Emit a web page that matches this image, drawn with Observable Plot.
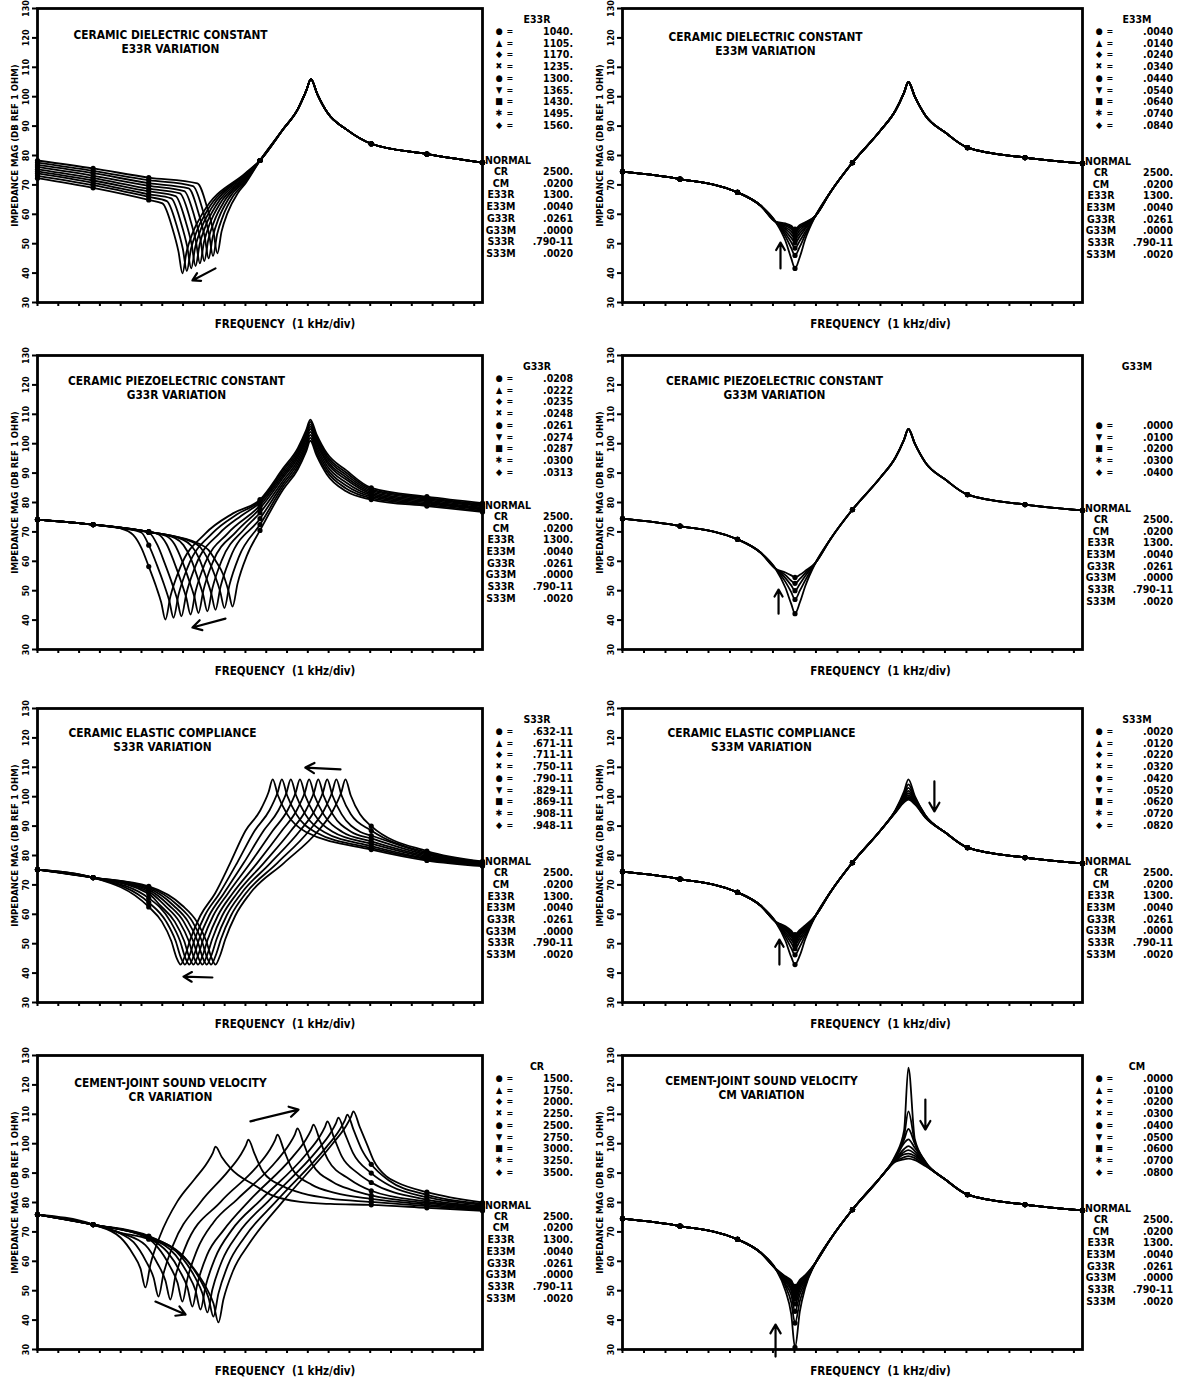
<!DOCTYPE html>
<html><head><meta charset="utf-8">
<script src="https://cdn.jsdelivr.net/npm/d3@7"></script>
<script src="https://cdn.jsdelivr.net/npm/@observablehq/plot@0.6"></script>
<style>
body{margin:0;background:#fff;}
#page{position:relative;width:1182px;height:1384px;font-family:"DejaVu Sans Condensed","DejaVu Sans",sans-serif;font-weight:bold;color:#000;}
.panel{position:absolute;}
.lg{position:absolute;font-size:10.5px;line-height:1;white-space:nowrap;}
</style></head><body><div id="page"></div>
<script>
// ---------- shared axis values ----------
const markerXs = [0, 2.675, 5.35, 8.025, 10.7, 13.375, 16.05, 18.725, 21.4];
const freqTicks = [0,1,2,3,4,5,6,7,8,9,10,11,12,13,14,15,16,17,18,19,20,21];
const dbTicks = [30,40,50,60,70,80,90,100,110,120,130];
const symbols = ["●","▲","◆","✖","●","▼","■","✱","◆"];
const normalNames = ["CR","CM","E33R","E33M","G33R","G33M","S33R","S33M"];
const normalValues = ["2500.",".0200","1300.",".0040",".0261",".0000",".790-11",".0020"];
const xLabel = "FREQUENCY  (1 kHz/div)";
const yLabel = "IMPEDANCE MAG (DB REF 1 OHM)";

// ---------- legend values ----------
const e33rValues = ["1040.","1105.","1170.","1235.","1300.","1365.","1430.","1495.","1560."];
const e33mValues = [".0040",".0140",".0240",".0340",".0440",".0540",".0640",".0740",".0840"];
const g33rValues = [".0208",".0222",".0235",".0248",".0261",".0274",".0287",".0300",".0313"];
const g33mValues = [".0000",".0100",".0200",".0300",".0400"];
const s33rValues = [".632-11",".671-11",".711-11",".750-11",".790-11",".829-11",".869-11",".908-11",".948-11"];
const s33mValues = [".0020",".0120",".0220",".0320",".0420",".0520",".0620",".0720",".0820"];
const crValues = ["1500.","1750.","2000.","2250.","2500.","2750.","3000.","3250.","3500."];
const cmValues = [".0000",".0100",".0200",".0300",".0400",".0500",".0600",".0700",".0800"];

// ---------- normal curve ----------
const normalX  = [0, 2.675, 5.35, 6.42, 7.12, 7.58, 7.85, 8.025, 8.25, 8.5, 8.98, 9.67, 10.7, 12.0, 12.7, 13.1, 13.3, 13.6, 14.09, 15.02, 16.05, 18.725, 21.4];
const normalDb = [74.5, 72, 67.5, 63, 57.5, 51, 45, 41.6, 45.5, 51.5, 59.5, 67.5, 77.6, 88.5, 95.3, 101.4, 105, 100, 93.6, 87.8, 82.7, 79.3, 77.3];

// dip region values (x = 7.58, 7.85, 8.025, 8.25, 8.5)
const e33mDips = [[51,45,41.6,45.5,51.5],[52.5,48.5,46,49,53],[53.5,50.5,48.5,51,54],[54.3,52,50.3,52.5,55],[55,53.2,51.6,53.6,55.6],[55.6,54.2,52.7,54.5,56.2],[56.1,55,53.6,55.3,56.6],[56.5,55.6,54.4,55.9,57],[56.9,56.1,55,56.4,57.3]];
const g33mDips = [[51,45.5,42.2,46,51.5],[53,49.5,47,50,53.5],[54.3,51.8,50,52.3,55],[55.3,53.4,52.5,54,56],[56.2,55.2,54.5,55.4,56.7]];
const s33mDips = [[51,45.5,42.9,46,51.5],[52.3,48.5,46.2,49,52.8],[53.2,50.2,48.3,50.8,53.6],[53.9,51.4,49.7,51.9,54.3],[54.5,52.3,50.8,52.8,54.8],[54.9,53,51.6,53.4,55.2],[55.3,53.6,52.2,53.9,55.6],[55.6,54,52.7,54.3,55.9],[55.9,54.4,53.1,54.7,56.2]];
const cmDips = [[50,42,30.7,43,51],[51.5,46,39,46.5,52],[52.3,48.5,43,48.8,52.8],[53,50,45.5,50.3,53.4],[53.5,51,47.3,51.3,53.9],[53.9,51.8,48.7,52,54.3],[54.3,52.5,49.8,52.7,54.7],[54.6,53,50.7,53.2,55],[54.9,53.5,51.5,53.7,55.3]];
// peak region values (x = 12.7, 13.1, 13.3, 13.6, 14.09)
const s33mPeaks = [[95.5,101.8,105.9,100.2,93.7],[95.3,101,104.2,99.8,93.6],[95.2,100.4,103,99.4,93.5],[95.1,99.9,102,99,93.4],[95,99.5,101.2,98.6,93.3],[94.9,99.1,100.5,98.3,93.2],[94.8,98.7,99.9,98,93.1],[94.7,98.4,99.4,97.7,93],[94.6,98.1,99,97.4,92.9]];
const cmPeaks = [[96,104.5,125.9,101.5,94],[95.7,102.5,111,100.5,93.8],[95.3,101.4,105,100,93.6],[95,100.2,101.5,98.6,93.4],[94.7,98.2,99.2,97.5,93.2],[94.5,97.2,97.8,96.6,93],[94.3,96.4,96.6,95.8,92.8],[94.1,95.4,95.8,95.1,92.6],[93.9,94.7,94.9,94.4,92.4]];

// ---------- E33R variation (left, row 1) ----------
const e33rHeads = [
 [[0,78.3],[2.675,75.6],[5.35,72.5],[7.69,70.5],[8.17,62.0],[8.46,54.1],[8.65,46.7],[8.85,54.1],[9.13,60.3],[9.62,67.1],[10.0,70.5]],
 [[0,77.6],[2.675,74.8],[5.35,71.6],[7.48,69.6],[7.96,61.1],[8.25,53.3],[8.44,45.8],[8.64,53.3],[8.92,59.4],[9.41,66.2],[10.0,71.1]],
 [[0,76.8],[2.675,74.0],[5.35,70.6],[7.27,68.8],[7.75,60.3],[8.04,52.4],[8.23,45.0],[8.43,52.4],[8.71,58.6],[9.2,65.4],[10.0,71.7]],
 [[0,76.1],[2.675,73.1],[5.35,69.7],[7.06,67.9],[7.54,59.4],[7.83,51.6],[8.02,44.1],[8.22,51.6],[8.5,57.7],[8.99,64.5],[10.0,72.3]],
 [[0,75.3],[2.675,72.3],[5.35,68.7],[6.85,67.1],[7.33,58.6],[7.62,50.7],[7.81,43.3],[8.01,50.7],[8.29,56.9],[8.78,63.7],[10.0,72.6]],
 [[0,74.6],[2.675,71.5],[5.35,67.8],[6.64,66.2],[7.12,57.7],[7.41,49.9],[7.6,42.4],[7.8,49.9],[8.08,56.0],[8.57,62.8],[10.0,73.0]],
 [[0,73.9],[2.675,70.7],[5.35,66.8],[6.43,65.4],[6.91,56.9],[7.2,49.0],[7.39,41.6],[7.59,49.0],[7.87,55.2],[8.36,62.0],[10.0,73.4]],
 [[0,73.1],[2.675,69.9],[5.35,65.9],[6.22,64.5],[6.7,56.0],[6.99,48.2],[7.18,40.7],[7.38,48.2],[7.66,54.3],[8.15,61.1],[10.0,73.7]],
 [[0,72.3],[2.675,69.0],[5.35,64.9],[6.01,63.7],[6.49,55.2],[6.78,47.3],[6.97,39.9],[7.17,47.3],[7.45,53.5],[7.94,60.3],[10.0,74.0]]
];
const e33rTail = [[10.7,78.3],[11.82,89],[12.52,95.8],[12.92,102],[13.15,106],[13.45,101],[13.94,94.6],[14.87,88.8],[16.05,84],[18.725,80.5],[21.4,77.6]];

// ---------- G33R variation (left, row 2) ----------
const g33rCurves = [
 [[0,74.2],[2.675,72.5],[5.35,70],[7.83,65.8],[8.23,63.8],[8.58,60],[8.93,55.5],[9.18,50],[9.38,44.6],[9.62,52.4],[10.08,62.1],[10.7,70.5],[11.82,84.5],[12.52,91.3],[12.92,97.4],[13.12,101],[13.42,96],[13.91,89.6],[14.84,83.8],[16.05,81],[18.725,78.8],[21.4,76.8]],
 [[0,74.2],[2.675,72.5],[5.35,70],[7.44,66.6],[7.84,64.7],[8.19,60.8],[8.54,55],[8.79,49.6],[8.99,44.1],[9.23,51.9],[9.69,61.6],[10.7,72.5],[11.82,85.5],[12.52,92.3],[12.92,98.4],[13.12,102],[13.42,97],[13.91,90.6],[14.84,84.8],[16.05,81.5],[18.725,79.2],[21.4,77.2]],
 [[0,74.2],[2.675,72.5],[5.35,70],[7.01,67.3],[7.41,65.2],[7.76,61.2],[8.11,54.5],[8.36,49],[8.56,43.5],[8.8,51.3],[9.26,61],[10.7,74.5],[11.82,86.5],[12.52,93.3],[12.92,99.4],[13.12,103],[13.42,98],[13.91,91.6],[14.84,85.8],[16.05,82],[18.725,79.6],[21.4,77.6]],
 [[0,74.2],[2.675,72.5],[5.35,70],[6.62,67.9],[7.02,65.5],[7.37,61],[7.72,54],[7.97,48.5],[8.17,43],[8.41,50.8],[8.87,60.5],[9.95,71],[10.7,76.5],[11.82,87.5],[12.52,94.3],[12.92,100.4],[13.12,104],[13.42,99],[13.91,92.6],[14.84,86.8],[16.05,82.5],[18.725,80],[21.4,77.9]],
 [[0,74.2],[2.675,72.5],[5.35,70],[6.19,68.6],[6.59,65.8],[6.94,60.4],[7.29,53.5],[7.54,48],[7.74,42.4],[7.98,50.2],[8.44,59.9],[9.55,70],[10.7,78],[11.82,88.5],[12.52,95.3],[12.92,101.4],[13.12,105],[13.42,100],[13.91,93.6],[14.84,87.8],[16.05,83],[18.725,80.4],[21.4,78.3]],
 [[0,74.2],[2.675,72.5],[5.35,70],[5.81,69.2],[6.21,65.8],[6.56,59.9],[6.91,53],[7.16,47.5],[7.36,41.9],[7.6,49.7],[8.06,59.4],[9.15,69.5],[10.7,79],[11.82,89.3],[12.52,96.1],[12.92,102.2],[13.12,105.8],[13.42,100.8],[13.91,94.4],[14.84,88.6],[16.05,83.5],[18.725,80.8],[21.4,78.7]],
 [[0,74.2],[2.675,72.5],[4.0,71.3],[5.35,69.8],[5.77,65.5],[6.12,59.3],[6.47,52.5],[6.72,47],[6.92,41.3],[7.16,49.1],[7.62,58.8],[8.75,69.5],[9.8,75.5],[10.7,80],[11.82,90.1],[12.52,96.9],[12.92,103],[13.12,106.6],[13.42,101.6],[13.91,95.2],[14.84,89.4],[16.05,84],[18.725,81.2],[21.4,79]],
 [[0,74.2],[2.675,72.5],[4.0,71.3],[4.99,69.8],[5.35,65.5],[5.74,58.8],[6.09,52],[6.34,46.5],[6.54,40.8],[6.78,48.6],[7.24,58.3],[8.4,69.5],[9.6,76],[10.7,80.5],[11.82,90.9],[12.52,97.7],[12.92,103.8],[13.12,107.4],[13.42,102.4],[13.91,96],[14.84,90.2],[16.05,84.5],[18.725,81.6],[21.4,79.4]],
 [[0,74.2],[2.675,72.5],[4.0,71.2],[4.6,69],[5.0,64.5],[5.35,58.2],[5.7,51.5],[5.95,46],[6.15,40.2],[6.39,48],[6.85,57.7],[8.08,69.5],[9.4,76.3],[10.7,81],[11.82,91.7],[12.52,98.5],[12.92,104.6],[13.12,108.2],[13.42,103.2],[13.91,96.8],[14.84,91],[16.05,85],[18.725,82],[21.4,79.8]]
];

// ---------- S33R variation (left, row 3) ----------
const s33rCurves = [
 [[0,75.2],[2.675,72.5],[5.35,69.5],[6.96,63],[7.66,57.5],[8.11,51],[8.38,45],[8.56,42.9],[8.78,46],[9.03,51.5],[9.51,59.5],[10.21,67],[11.86,77.5],[13.51,88.5],[14.21,95.3],[14.61,101.5],[14.81,105.9],[15.06,100.5],[15.51,94],[16.05,90],[18.725,81.5],[21.4,78]],
 [[0,75.2],[2.675,72.5],[5.35,69.2],[6.75,63],[7.45,57.5],[7.9,51],[8.17,45],[8.35,42.9],[8.57,46],[8.82,51.5],[9.3,59.5],[10.0,67],[11.54,77.5],[13.07,88.5],[13.77,95.3],[14.17,101.5],[14.37,105.9],[14.62,100.5],[15.07,94],[16.05,88.5],[18.725,81],[21.4,77.8]],
 [[0,75.2],[2.675,72.5],[5.35,68.8],[6.54,63],[7.24,57.5],[7.69,51],[7.96,45],[8.14,42.9],[8.36,46],[8.61,51.5],[9.09,59.5],[9.79,67],[11.21,77.5],[12.63,88.5],[13.33,95.3],[13.73,101.5],[13.93,105.9],[14.18,100.5],[14.63,94],[15.53,88],[16.05,86.8],[18.725,80.6],[21.4,77.6]],
 [[0,75.2],[2.675,72.5],[5.35,68.3],[6.33,63],[7.03,57.5],[7.48,51],[7.75,45],[7.93,42.9],[8.15,46],[8.4,51.5],[8.88,59.5],[9.58,67],[10.89,77.5],[12.2,88.5],[12.9,95.3],[13.3,101.5],[13.5,105.9],[13.75,100.5],[14.2,94],[15.1,88],[16.05,85.8],[18.725,80.2],[21.4,77.4]],
 [[0,75.2],[2.675,72.5],[5.35,67.7],[6.12,63],[6.82,57.5],[7.27,51],[7.54,45],[7.72,42.9],[7.94,46],[8.19,51.5],[8.67,59.5],[9.37,67],[10.57,77.5],[11.76,88.5],[12.46,95.3],[12.86,101.5],[13.06,105.9],[13.31,100.5],[13.76,94],[14.66,88],[16.05,84.8],[18.725,79.8],[21.4,77.2]],
 [[0,75.2],[2.675,72.5],[5.35,67.0],[5.9,63],[6.6,57.5],[7.05,51],[7.32,45],[7.5,42.9],[7.72,46],[7.97,51.5],[8.45,59.5],[9.15,67],[10.24,77.5],[11.32,88.5],[12.02,95.3],[12.42,101.5],[12.62,105.9],[12.87,100.5],[13.32,94],[14.22,88],[16.05,84],[18.725,79.4],[21.4,77]],
 [[0,75.2],[2.675,72.5],[5.35,65.5],[6.4,57.5],[6.85,51],[7.12,45],[7.3,42.9],[7.52,46],[7.77,51.5],[8.25,59.5],[8.95,67],[9.92,77.5],[10.88,88.5],[11.58,95.3],[11.98,101.5],[12.18,105.9],[12.43,100.5],[12.88,94],[13.78,88],[16.05,83.2],[18.725,79],[21.4,76.8]],
 [[0,75.2],[2.675,72.5],[5.35,64],[6.19,57.5],[6.64,51],[6.91,45],[7.09,42.9],[7.31,46],[7.56,51.5],[8.04,59.5],[8.74,67],[9.6,77.5],[10.45,88.5],[11.15,95.3],[11.55,101.5],[11.75,105.9],[12.0,100.5],[12.45,94],[13.35,88],[16.05,82.5],[18.725,78.7],[21.4,76.6]],
 [[0,75.2],[2.675,72.5],[5.35,62.5],[5.98,57.5],[6.43,51],[6.7,45],[6.88,42.9],[7.1,46],[7.35,51.5],[7.83,59.5],[8.53,67],[9.27,77.5],[10.01,88.5],[10.71,95.3],[11.11,101.5],[11.31,105.9],[11.56,100.5],[12.01,94],[12.91,88],[16.05,82],[18.725,78.3],[21.4,76.4]]
];

// ---------- CR variation (left, row 4) ----------
const crCurves = [
 [[0,75.9],[2.675,72.5],[3.99,68.1],[4.59,62.5],[4.95,57.6],[5.19,51.1],[5.43,58.9],[5.89,68.6],[6.72,80.3],[7.56,88],[8.16,93.5],[8.44,97],[8.56,99],[8.86,95.5],[9.3,91.5],[10.38,86.1],[11.2,82.7],[12.64,80.2],[14.09,79.5],[16.05,79.2],[18.725,78.2],[21.4,77.2]],
 [[0,75.9],[2.675,72.5],[4.0,69.4],[4.62,66.5],[5.22,60],[5.58,54.5],[5.82,48],[6.06,55.8],[6.52,65.5],[7.83,80],[9.14,90.4],[9.74,95.9],[10.02,99.4],[10.14,101.4],[10.44,96.5],[10.84,90.5],[11.8,85.5],[12.8,83],[14.09,81.3],[16.05,80.2],[18.725,78.8],[21.4,77.5]],
 [[0,75.9],[2.675,72.5],[4.0,69.6],[5.19,65.5],[5.79,59],[6.15,53.5],[6.39,47],[6.63,54.8],[7.09,64.5],[8.82,80.3],[10.54,92.1],[11.14,97.6],[11.42,101.1],[11.54,103.1],[11.84,98],[12.24,91.5],[13.2,86],[14.3,83.3],[16.05,81.2],[18.725,79.3],[21.4,77.8]],
 [[0,75.9],[2.675,72.5],[4.0,69.7],[5.35,67.5],[5.77,64.8],[6.37,58.3],[6.73,52.8],[6.97,46.3],[7.21,54.1],[7.67,63.8],[8.47,73.3],[9.59,81],[11.5,94.2],[12.1,99.7],[12.38,103.2],[12.5,105.2],[12.8,100],[13.2,93.2],[14.2,87],[15.1,84.3],[16.05,82.4],[18.725,79.8],[21.4,78.1]],
 [[0,75.9],[2.675,72.5],[5.35,67.8],[6.25,63.1],[6.85,56.6],[7.21,51.1],[7.45,44.6],[7.69,52.4],[8.15,62.1],[8.95,70.6],[10.21,80.8],[12.27,95.5],[12.87,101],[13.15,104.5],[13.27,106.5],[13.57,101.3],[13.97,94.5],[14.99,88],[16.05,84],[18.725,80.3],[21.4,78.4]],
 [[0,75.9],[2.675,72.5],[5.35,68],[6.64,62.1],[7.24,55.6],[7.6,50.1],[7.84,43.6],[8.08,51.4],[8.54,61.1],[9.34,70.6],[10.74,80.9],[12.94,96.6],[13.54,102.1],[13.82,105.6],[13.94,107.6],[14.24,102.4],[14.64,95.6],[15.4,90],[16.05,86.8],[18.725,81],[21.4,78.8]],
 [[0,75.9],[2.675,72.5],[5.35,68.2],[6.97,61.1],[7.57,54.6],[7.93,49.1],[8.17,42.6],[8.41,50.4],[8.87,60.1],[9.67,69.6],[11.17,81],[13.47,97.9],[14.07,103.4],[14.35,106.9],[14.47,108.9],[14.77,103.7],[15.17,96.9],[16.05,90],[17.0,85.5],[18.725,81.8],[21.4,79.2]],
 [[0,75.9],[2.675,72.5],[5.35,68.4],[7.26,59.7],[7.86,53.2],[8.22,47.7],[8.46,41.2],[8.7,49],[9.16,58.7],[9.96,68.2],[11.53,80.8],[13.9,98.9],[14.5,104.4],[14.78,107.9],[14.9,109.9],[15.2,104.7],[15.6,97.9],[16.05,93],[16.9,87.5],[18.725,82.6],[21.4,79.6]],
 [[0,75.9],[2.675,72.5],[5.35,68.6],[7.5,57.7],[8.1,51.2],[8.46,45.7],[8.7,39.2],[8.94,47],[9.4,56.7],[10.2,66.2],[11.8,80.4],[14.19,100],[14.79,105.5],[15.07,109],[15.19,111],[15.49,105.8],[15.89,99],[16.15,94.5],[16.8,88.8],[17.3,86.8],[18.725,83.5],[21.4,80]]
];

// ---------- arrows (x in kHz divisions, y in dB) ----------
const e33rArrows = [{x1:8.56,y1:41.6,x2:7.45,y2:37.5}];
const e33mArrows = [{x1:7.35,y1:41.6,x2:7.35,y2:50.4}];
const g33rArrows = [{x1:9.04,y1:40.5,x2:7.45,y2:37.5}];
const g33mArrows = [{x1:7.26,y1:42.2,x2:7.26,y2:50.4}];
const s33rArrows = [{x1:8.41,y1:38.5,x2:7.02,y2:38.8},{x1:14.57,y1:109.3,x2:12.88,y2:109.9}];
const s33mArrows = [{x1:7.3,y1:42.9,x2:7.3,y2:51.4},{x1:14.51,y1:105.2,x2:14.51,y2:95}];
const crArrows = [{x1:10.24,y1:107.6,x2:12.55,y2:111.6},{x1:5.67,y1:46.3,x2:7.12,y2:41.9}];
const cmArrows = [{x1:7.12,y1:27.6,x2:7.12,y2:38.5},{x1:14.09,y1:115,x2:14.09,y2:104.8}];

// ---------- build tables ----------
function fromNormal(dips, peaks) {
  const n = dips.length;
  return Array.from({length: n}, (_, k) => {
    const y = normalDb.slice();
    y.splice(5, 5, ...dips[k]);
    if (peaks) y.splice(14, 5, ...peaks[k]);
    return normalX.map((x, i) => [x, y[i]]);
  });
}
const e33rCurves = e33rHeads.map(h => h.concat(e33rTail));

const panels = [
  {col:0,row:0,title:"CERAMIC DIELECTRIC CONSTANT\nE33R VARIATION",tdx:133,tdy:20,header:"E33R",values:e33rValues,first:0,curves:e33rCurves,normal:4,arrows:e33rArrows},
  {col:1,row:0,title:"CERAMIC DIELECTRIC CONSTANT\nE33M VARIATION",tdx:143,tdy:22,header:"E33M",values:e33mValues,first:0,curves:fromNormal(e33mDips),normal:0,arrows:e33mArrows},
  {col:0,row:1,title:"CERAMIC PIEZOELECTRIC CONSTANT\nG33R VARIATION",tdx:139,tdy:19,header:"G33R",values:g33rValues,first:0,curves:g33rCurves,normal:4,arrows:g33rArrows},
  {col:1,row:1,title:"CERAMIC PIEZOELECTRIC CONSTANT\nG33M VARIATION",tdx:152,tdy:19,header:"G33M",values:g33mValues,first:4,curves:fromNormal(g33mDips),normal:0,arrows:g33mArrows},
  {col:0,row:2,title:"CERAMIC ELASTIC COMPLIANCE\nS33R VARIATION",tdx:125,tdy:18,header:"S33R",values:s33rValues,first:0,curves:s33rCurves,normal:4,arrows:s33rArrows},
  {col:1,row:2,title:"CERAMIC ELASTIC COMPLIANCE\nS33M VARIATION",tdx:139,tdy:18,header:"S33M",values:s33mValues,first:0,curves:fromNormal(s33mDips,s33mPeaks),normal:0,arrows:s33mArrows},
  {col:0,row:3,title:"CEMENT-JOINT SOUND VELOCITY\nCR VARIATION",tdx:133,tdy:21,header:"CR",values:crValues,first:0,curves:crCurves,normal:4,arrows:crArrows},
  {col:1,row:3,title:"CEMENT-JOINT SOUND VELOCITY\nCM VARIATION",tdx:139,tdy:19,header:"CM",values:cmValues,first:0,curves:fromNormal(cmDips,cmPeaks),normal:2,arrows:cmArrows}
];

const colLeft = [0, 585];
const plotW = [445, 460];
const rowTop = [0, 347, 700, 1047];
const ML = 37, MT = 8, PH = 294, MB = 32, MR = 10;
const FONT = '"DejaVu Sans Condensed","DejaVu Sans",sans-serif';
const page = document.getElementById("page");

function addLabel(parent, text, x, y, align, size) {
  const s = document.createElement("span");
  s.className = "lg";
  s.textContent = text;
  if (size) s.style.fontSize = size + "px";
  s.style.top = y + "px";
  s.style.left = x + "px";
  const tx = align === "right" ? "-100%" : align === "center" ? "-50%" : "0";
  s.style.transform = "translate(" + tx + ",-50%)";
  parent.appendChild(s);
}

for (const p of panels) {
  const W = plotW[p.col];
  const rows = p.curves.flatMap((pts, c) => pts.map(([x, y]) => ({c, x, y})));
  const marks = rows.filter(d => markerXs.includes(d.x));
  const chart = Plot.plot({
    width: ML + W + MR, height: MT + PH + MB,
    marginLeft: ML, marginRight: MR, marginTop: MT, marginBottom: MB,
    x: {domain: [0, 21.4]},
    y: {domain: [30, 130]},
    style: {fontFamily: FONT, fontWeight: "bold", background: "transparent", color: "black"},
    marks: [
      Plot.axisX({ticks: freqTicks, tickFormat: () => "", tickSize: 4, strokeWidth: 2, label: null}),
      Plot.axisY({ticks: dbTicks, tickFormat: () => "", tickSize: 5, strokeWidth: 2, label: null}),
      Plot.text(dbTicks, {y: d => d, frameAnchor: "left", dx: -11, rotate: -90, textAnchor: "middle", fontSize: 9, fontWeight: "bold"}),
      Plot.line(rows, {x: "x", y: "y", z: "c", curve: "monotone-x", stroke: "black", strokeWidth: 1.8}),
      Plot.dot(marks, {x: "x", y: "y", r: 2.6, fill: "black"}),
      Plot.arrow(p.arrows, {x1: "x1", y1: "y1", x2: "x2", y2: "y2", strokeWidth: 2.2, headLength: 7}),
      Plot.frame({strokeWidth: 2.8}),
      Plot.text([p.title], {frameAnchor: "top-left", dx: p.tdx, dy: p.tdy, textAnchor: "middle", lineAnchor: "top", fontSize: 11.8, fontWeight: "bold", lineHeight: 1.2}),
      Plot.text([xLabel], {frameAnchor: "bottom", dx: p.col ? 28 : 25, dy: 22, lineAnchor: "middle", fontSize: 11.5, fontWeight: "bold"}),
      Plot.text([yLabel], {frameAnchor: "left", dx: -23, dy: -10, rotate: -90, textAnchor: "middle", fontSize: 9.5, fontWeight: "bold"})
    ]
  });
  const div = document.createElement("div");
  div.className = "panel";
  div.style.left = colLeft[p.col] + "px";
  div.style.top = rowTop[p.row] + "px";
  div.style.width = (ML + W + 110) + "px";
  div.style.height = (MT + PH + MB) + "px";
  div.appendChild(chart);
  page.appendChild(div);

  const fr = ML + W;
  // variation legend
  addLabel(div, p.header, fr + 55, MT + 11, "center");
  p.values.forEach((v, i) => {
    const k = p.first + i;
    const yy = MT + 23 + 11.7 * k;
    addLabel(div, symbols[k], fr + 17, yy, "center", 9);
    addLabel(div, "=", fr + 28, yy, "center", 9);
    addLabel(div, v, fr + 91, yy, "right");
  });
  // normal block
  const nc = p.curves[p.normal];
  const yEnd = chart.scale("y").apply(nc[nc.length - 1][1]);
  addLabel(div, "NORMAL", fr + 3, yEnd - 2, "left");
  normalNames.forEach((n, i) => {
    const yy = yEnd + 9 + 11.7 * i;
    addLabel(div, n, fr + 19, yy, "center");
    addLabel(div, normalValues[i], fr + 91, yy, "right");
  });
}
</script></body></html>
